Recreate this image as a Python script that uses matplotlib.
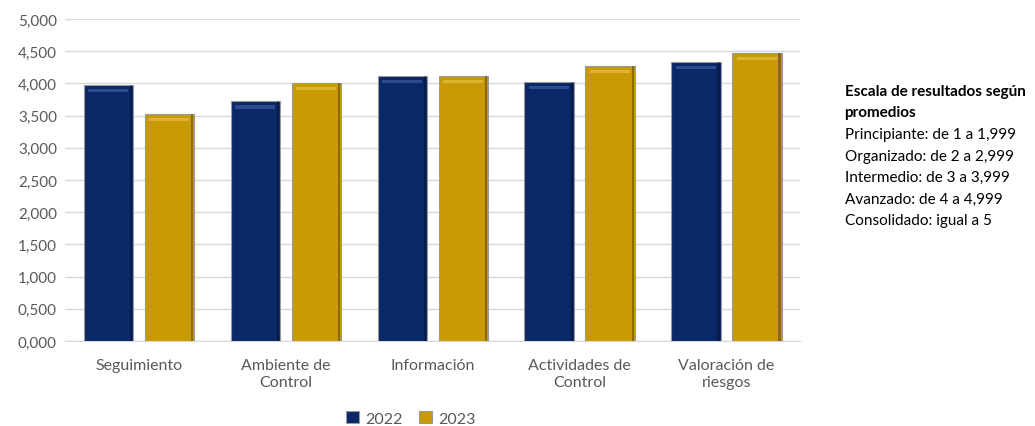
import numpy as np
import matplotlib.pyplot as plt

# Datos
categorias = ['Seguimiento', 'Ambiente de\nControl', 'Información',
              'Actividades de\nControl', 'Valoración de\nriesgos']
valores_2022 = [3.98, 3.72, 4.12, 4.02, 4.33]
valores_2023 = [3.52, 4.01, 4.12, 4.27, 4.47]
anios = ['2022', '2023']

AZUL = '#0a2767'
DORADO = '#c99a05'
GRIS = '#595959'

titulo_escala = ['Escala de resultados según', 'promedios']
escala = ['Principiante: de 1 a 1,999',
          'Organizado: de 2 a 2,999',
          'Intermedio: de 3 a 3,999',
          'Avanzado: de 4 a 4,999',
          'Consolidado: igual a 5']

plt.rcParams['font.family'] = ['Lato', 'DejaVu Sans']

fig = plt.figure(figsize=(10.35, 4.27), dpi=100)
ax = fig.add_axes([0.063, 0.199, 0.71, 0.754])

x = np.arange(len(categorias))
ancho = 0.335
sep = 0.415


def dibujar_barras(pos, vals, color, luz):
    bars = ax.bar(pos, vals, width=ancho, color=color, edgecolor='#9a9a9a',
                  linewidth=0.8, zorder=3)
    # bisel: franja clara arriba y sombra a la derecha
    ax.bar(pos, [0.05] * len(vals), bottom=np.array(vals) - 0.11, width=ancho * 0.82,
           color=luz, alpha=0.5, zorder=4, linewidth=0)
    ax.bar(pos + ancho * 0.46, vals, width=ancho * 0.05, color='black', alpha=0.3,
           zorder=4, linewidth=0)
    return bars


b1 = dibujar_barras(x - sep / 2, valores_2022, AZUL, '#4f6fb8')
b2 = dibujar_barras(x + sep / 2, valores_2023, DORADO, '#f2cf55')

ax.set_ylim(0, 5)
ax.set_xlim(-0.5, len(categorias) - 0.5)
yt = np.arange(0, 5.01, 0.5)
ax.set_yticks(yt)
ax.set_yticklabels([f'{v:.3f}'.replace('.', ',') for v in yt], color=GRIS, fontsize=11)
ax.set_xticks(x)
ax.set_xticklabels(categorias, color=GRIS, fontsize=11.5, linespacing=1.3)
ax.tick_params(axis='y', length=0, pad=6)
ax.tick_params(axis='x', length=0, pad=12)
ax.grid(axis='y', color='#d9d9d9', linewidth=1, zorder=0)
for s in ['top', 'right', 'left']:
    ax.spines[s].set_visible(False)
ax.spines['bottom'].set_color('#d9d9d9')

fig.legend([b1, b2], anios, loc='center', bbox_to_anchor=(0.397, 0.018),
           ncol=2, frameon=False, fontsize=11.5, handlelength=0.8, handleheight=0.8,
           columnspacing=1.0, handletextpad=0.4, labelcolor=GRIS)

# bloque de texto a la derecha, una línea cada 21.5 px
lineas = titulo_escala + escala
for i, linea in enumerate(lineas):
    y = 1 - (92 + 21.5 * i) / 427
    fig.text(0.816, y, linea, fontsize=11, color='black', va='center',
             fontweight='bold' if i < len(titulo_escala) else 'normal')

fig.savefig('out.png', dpi=100)
